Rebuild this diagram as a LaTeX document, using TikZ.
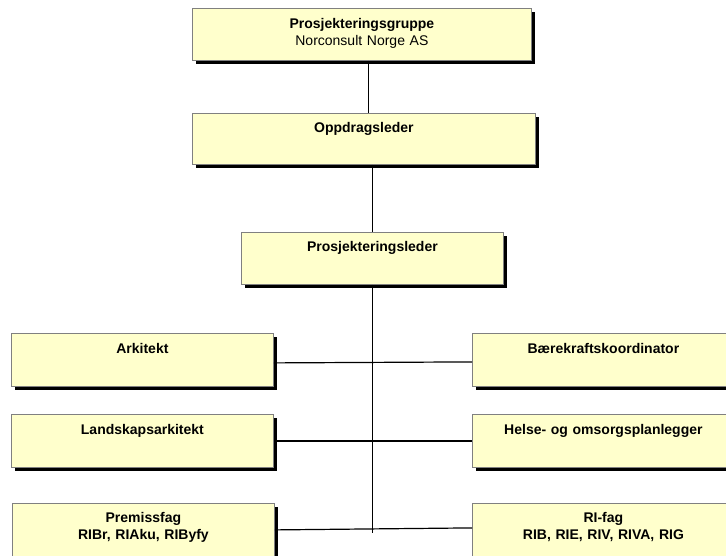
\documentclass[tikz,border=0pt]{standalone}
\usepackage{fontspec}
\setmainfont{Liberation Sans}
\usetikzlibrary{shadows}
\definecolor{boxfill}{HTML}{FFFFCC}
\definecolor{boxline}{HTML}{808080}
\tikzset{
  orgbox/.style={draw=boxline, line width=0.8pt, fill=boxfill, inner sep=0pt,
    anchor=north west, minimum width=262pt, minimum height=53pt,
    general shadow={fill=black, shadow xshift=4pt, shadow yshift=-4pt}},
  orgtext/.style={anchor=base, inner sep=0pt, align=center, text width=250pt,
    font=\fontsize{14}{17}\selectfont\bfseries},
  conn/.style={draw=black, line width=1.2pt}
}
\begin{document}
\begin{tikzpicture}[x=1pt,y=-1pt]
\useasboundingbox (0,0) rectangle (726,555);
\clip (0,0) rectangle (726,555);
% boxes
\node[orgbox, minimum width=339pt, minimum height=52pt] (top) at (192,8) {};
\node[orgbox, minimum width=343pt, minimum height=51pt] (opp) at (192,113) {};
\node[orgbox, minimum height=52pt] (prosj) at (241,232) {};
\node[orgbox] (ark) at (11,333) {};
\node[orgbox] (land) at (11,414) {};
\node[orgbox] (prem) at (12,503) {};
\node[orgbox] (baer) at (472,333) {};
\node[orgbox] (helse) at (472,414) {};
\node[orgbox] (ri) at (472,503) {};
% texts
\node[orgtext] (topT) at ([yshift=-20pt]top.north) {Prosjekteringsgruppe\\\mdseries Norconsult Norge AS};
\node[orgtext] (oppT) at ([yshift=-19pt]opp.north) {Oppdragsleder};
\node[orgtext] (prosjT) at ([yshift=-19pt]prosj.north) {Prosjekteringsleder};
\node[orgtext] (arkT) at ([yshift=-20pt]ark.north) {Arkitekt};
\node[orgtext] (landT) at ([yshift=-20pt]land.north) {Landskapsarkitekt};
\node[orgtext] (premT) at ([yshift=-19pt]prem.north) {Premissfag\\RIBr, RIAku, RIByfy};
\node[orgtext] (baerT) at ([yshift=-20pt]baer.north) {Bærekraftskoordinator};
\node[orgtext] (helseT) at ([yshift=-20pt]helse.north) {Helse- og omsorgsplanlegger};
\node[orgtext] (riT) at ([yshift=-19pt]ri.north) {RI-fag\\RIB, RIE, RIV, RIVA, RIG};
% connectors
\coordinate (trunkend) at (372,533);
\draw[conn] ([xshift=6.5pt]top.south) -- ([xshift=6.5pt]top.south |- opp.north);
\draw[conn] (opp.south -| prosj.north) -- (prosj.north);
\draw[conn] (prosj.south) -- (prosj.south |- trunkend);
\draw[conn] ([yshift=-3pt]ark.east) -- ([yshift=-2pt]baer.west);
\draw[conn] (land.east) -- (helse.west);
\draw[conn] (prem.east) -- ([yshift=2pt]ri.west);
\end{tikzpicture}
\end{document}
